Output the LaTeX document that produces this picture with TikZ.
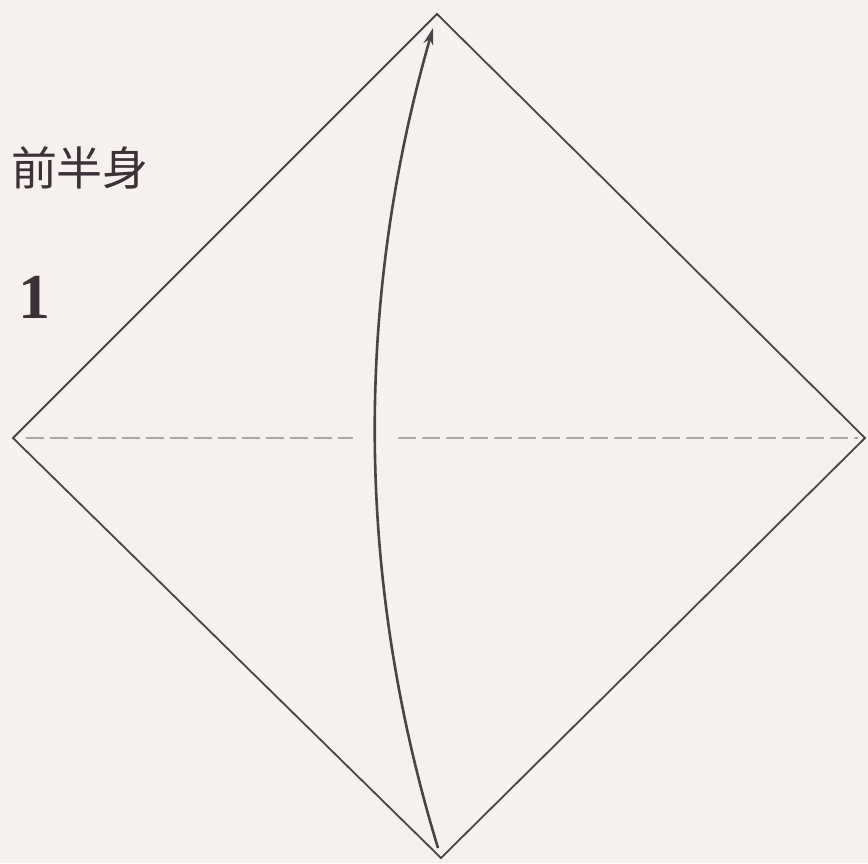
\documentclass[tikz,border=0pt]{standalone}
\usepackage{fontspec}
\setmainfont{Liberation Serif}
\newfontfamily\jpfont{Noto Sans CJK JP}
\usetikzlibrary{arrows.meta}
\definecolor{paper}{HTML}{F6F1EF}
\definecolor{ink}{HTML}{4A4347}
\definecolor{foldgray}{HTML}{AAA5A8}
\definecolor{txt}{HTML}{3A3236}
\tikzset{
  edgeline/.style={draw=ink, line width=1.8pt, line join=miter},
  valley/.style={draw=foldgray, line width=1.6pt, dash pattern=on 18pt off 6pt},
  foldarrow/.style={draw=ink, line width=2.6pt, -{Stealth[length=17pt,width=10pt]}},
  labeltext/.style={text=txt, inner sep=0pt}
}
\begin{document}
\begin{tikzpicture}[x=1pt,y=-1pt]
  \fill[paper] (0,0) rectangle (868,863);
  \useasboundingbox (0,0) rectangle (868,863);
  \coordinate (top) at (437,14);
  \coordinate (right) at (865,438);
  \coordinate (bottom) at (441,858);
  \coordinate (left) at (13,438);
  \coordinate (dashL) at (26,438);
  \coordinate (gapL) at (353,438);
  \coordinate (gapR) at (398,438);
  \coordinate (dashR) at (858,438);
  \coordinate (arrS) at (438,848);
  \coordinate (arrE) at (433,28);
  \draw[valley] (dashL) -- (gapL);
  \draw[valley] (gapR) -- (dashR);
  \draw[edgeline] (top) -- (right) -- (bottom) -- (left) -- cycle;
  \draw[foldarrow] (arrS) .. controls (355,576) and (355,300) .. (arrE);
  \node[labeltext, font=\jpfont\fontsize{46pt}{46pt}\selectfont] (title) at (80,168) {前半身};
  \node[labeltext, font=\bfseries\fontsize{64pt}{64pt}\selectfont, anchor=base] (step1) at (35,318) {1};
\end{tikzpicture}
\end{document}
